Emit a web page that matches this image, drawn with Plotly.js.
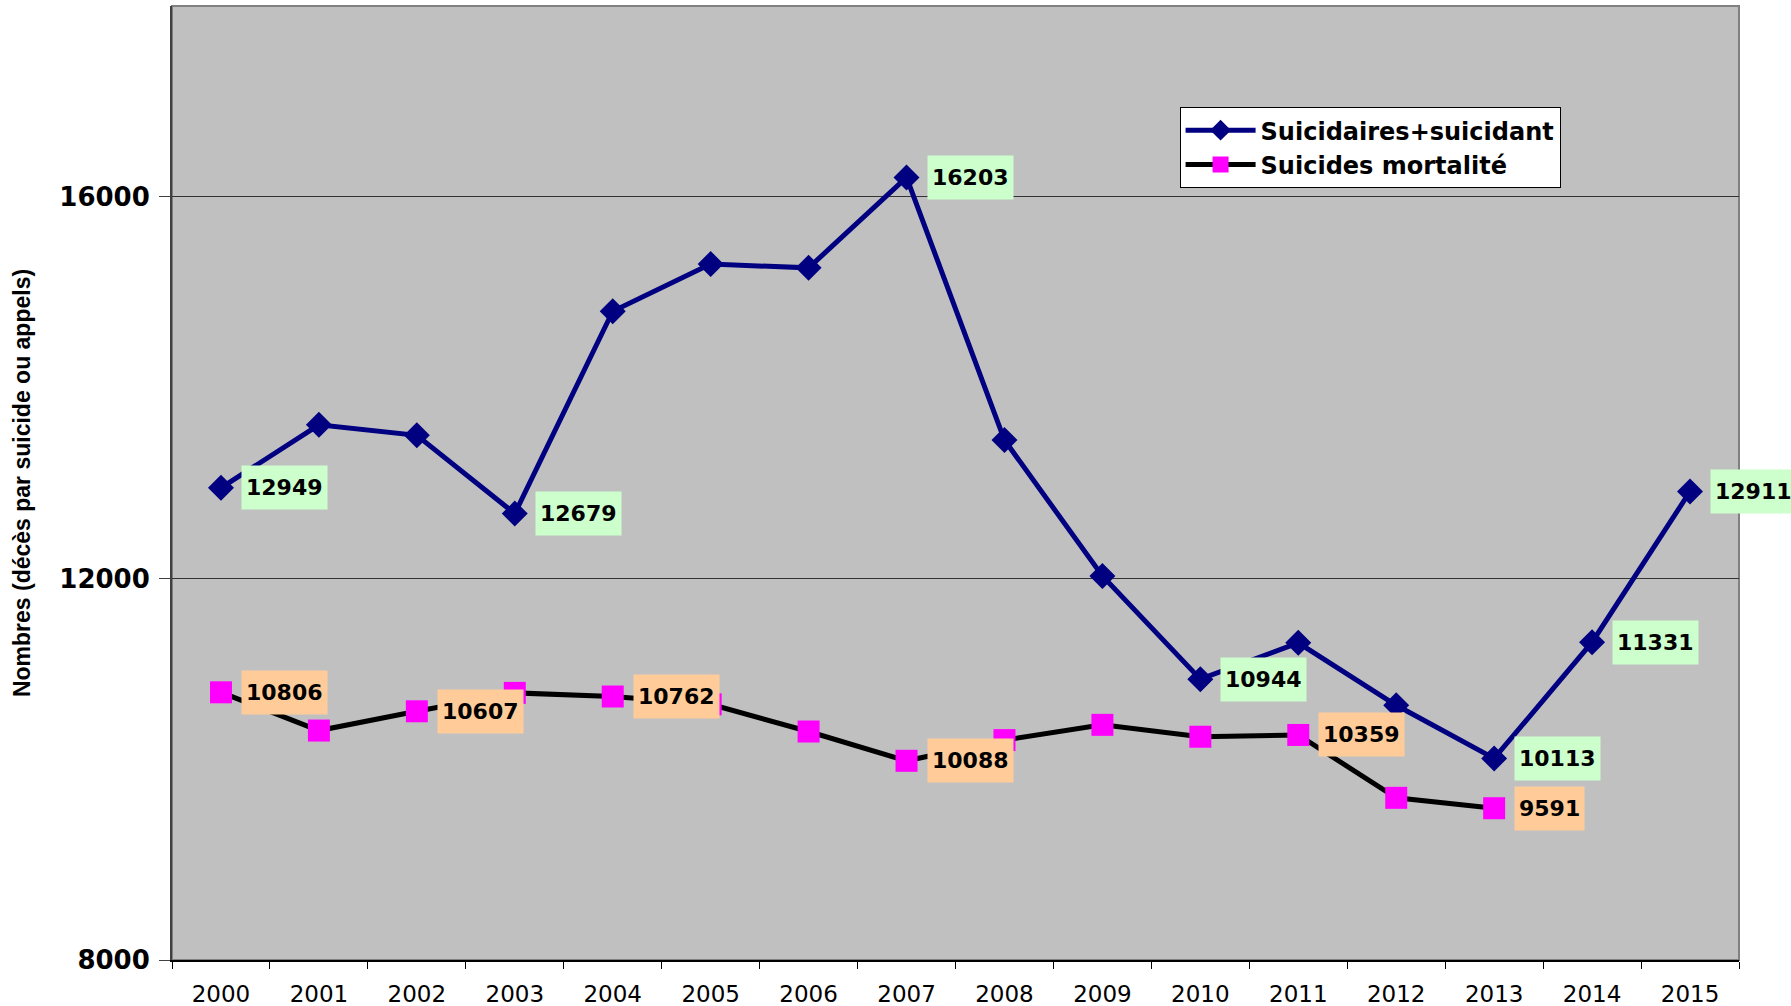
<!DOCTYPE html>
<html>
<head>
<meta charset="utf-8">
<script src="https://cdn.plot.ly/plotly-3.0.1.min.js"></script>
<style>html,body{margin:0;padding:0;background:#fff;}#chart{width:1791px;height:1006px;}</style>
</head>
<body>
<div id="chart"></div>
<script>
// ---- data ----
const years = ['2000','2001','2002','2003','2004','2005','2006','2007','2008','2009','2010','2011','2012','2013','2014','2015'];
const suicidaires = [12949, 13610, 13500, 12679, 14800, 15295, 15255, 16203, 13450, 12025, 10944, 11325, 10670, 10113, 11331, 12911];
const mortalite   = [10806, 10405, 10607, 10800, 10762, 10680, 10395, 10088, 10305, 10465, 10340, 10359, 9700, 9591, null, null];
const seriesNames = ['Suicidaires+suicidant', 'Suicides mortalité'];
const labelYearsSuicidaires = ['2000','2003','2007','2010','2013','2014','2015'];
const labelYearsMortalite   = ['2000','2002','2004','2007','2011','2013'];
const yTickVals = [8000, 12000, 16000];
const yTickText = ['8000', '12000', '16000'];

// ---- styles ----
const boldFont = 'DejaVu Sans, Liberation Sans, Arial, sans-serif';

const traces = [
  {
    x: years, y: suicidaires, name: seriesNames[0], type: 'scatter', mode: 'lines+markers',
    line: {color: '#000080', width: 5},
    marker: {symbol: 'diamond', size: 20, color: '#000080'}
  },
  {
    x: years, y: mortalite, name: seriesNames[1], type: 'scatter', mode: 'lines+markers',
    line: {color: '#000000', width: 5},
    marker: {symbol: 'square', size: 22, color: '#FF00FF'}
  }
];

function makeLabels(vals, labelYears, bg) {
  return labelYears.map(yr => {
    const i = years.indexOf(yr);
    return {
      x: i, y: vals[i], xref: 'x', yref: 'y',
      text: String(vals[i]), showarrow: false,
      xanchor: 'left', yanchor: 'middle', xshift: 20,
      bgcolor: bg, borderpad: 4, height: 35,
      font: {family: boldFont, size: 22, color: '#000', weight: 'bold'}
    };
  });
}

const annotations = [].concat(
  makeLabels(suicidaires, labelYearsSuicidaires, '#CCFFCC'),
  makeLabels(mortalite, labelYearsMortalite, '#FFCC99')
);

const layout = {
  width: 1791, height: 1006,
  margin: {l: 172, r: 52, t: 6, b: 46},
  paper_bgcolor: '#ffffff',
  plot_bgcolor: '#C0C0C0',
  showlegend: true,
  legend: {
    x: 0.643, y: 0.894, xanchor: 'left', yanchor: 'top',
    bgcolor: '#ffffff', bordercolor: '#000000', borderwidth: 1,
    font: {family: boldFont, size: 24, color: '#000', weight: 'bold'},
    itemwidth: 70, tracegroupgap: 0
  },
  xaxis: {
    type: 'category', range: [-0.5, 15.5],
    showgrid: false, zeroline: false,
    showline: true, linecolor: '#000000', linewidth: 2,
    ticks: 'outside', tickson: 'boundaries', ticklen: 7, tickcolor: '#000000', tickwidth: 1,
    ticklabelstandoff: 12,
    tickfont: {family: 'DejaVu Sans, Liberation Sans, Arial, sans-serif', size: 23, color: '#000'}
  },
  yaxis: {
    range: [8000, 18000],
    tickvals: yTickVals, ticktext: yTickText,
    showgrid: true, gridcolor: '#333333', gridwidth: 1,
    zeroline: false,
    showline: true, linecolor: '#404040', linewidth: 2,
    ticks: 'outside', ticklen: 11, tickcolor: '#404040', tickwidth: 1,
    ticklabelstandoff: 4,
    tickfont: {family: boldFont, size: 26, color: '#000', weight: 'bold'},
    title: {
      text: 'Nombres (décès par suicide ou appels)',
      standoff: 22,
      font: {family: 'Liberation Sans, Arial, sans-serif', size: 23, color: '#000', weight: 'bold'}
    }
  },
  shapes: [{
    type: 'rect', xref: 'paper', yref: 'paper', x0: 0, x1: 1, y0: 0, y1: 1,
    line: {color: '#808080', width: 2}, layer: 'below'
  }],
  annotations: annotations,
  hovermode: false
};

Plotly.newPlot('chart', traces, layout, {staticPlot: true, displayModeBar: false});
</script>
</body>
</html>
